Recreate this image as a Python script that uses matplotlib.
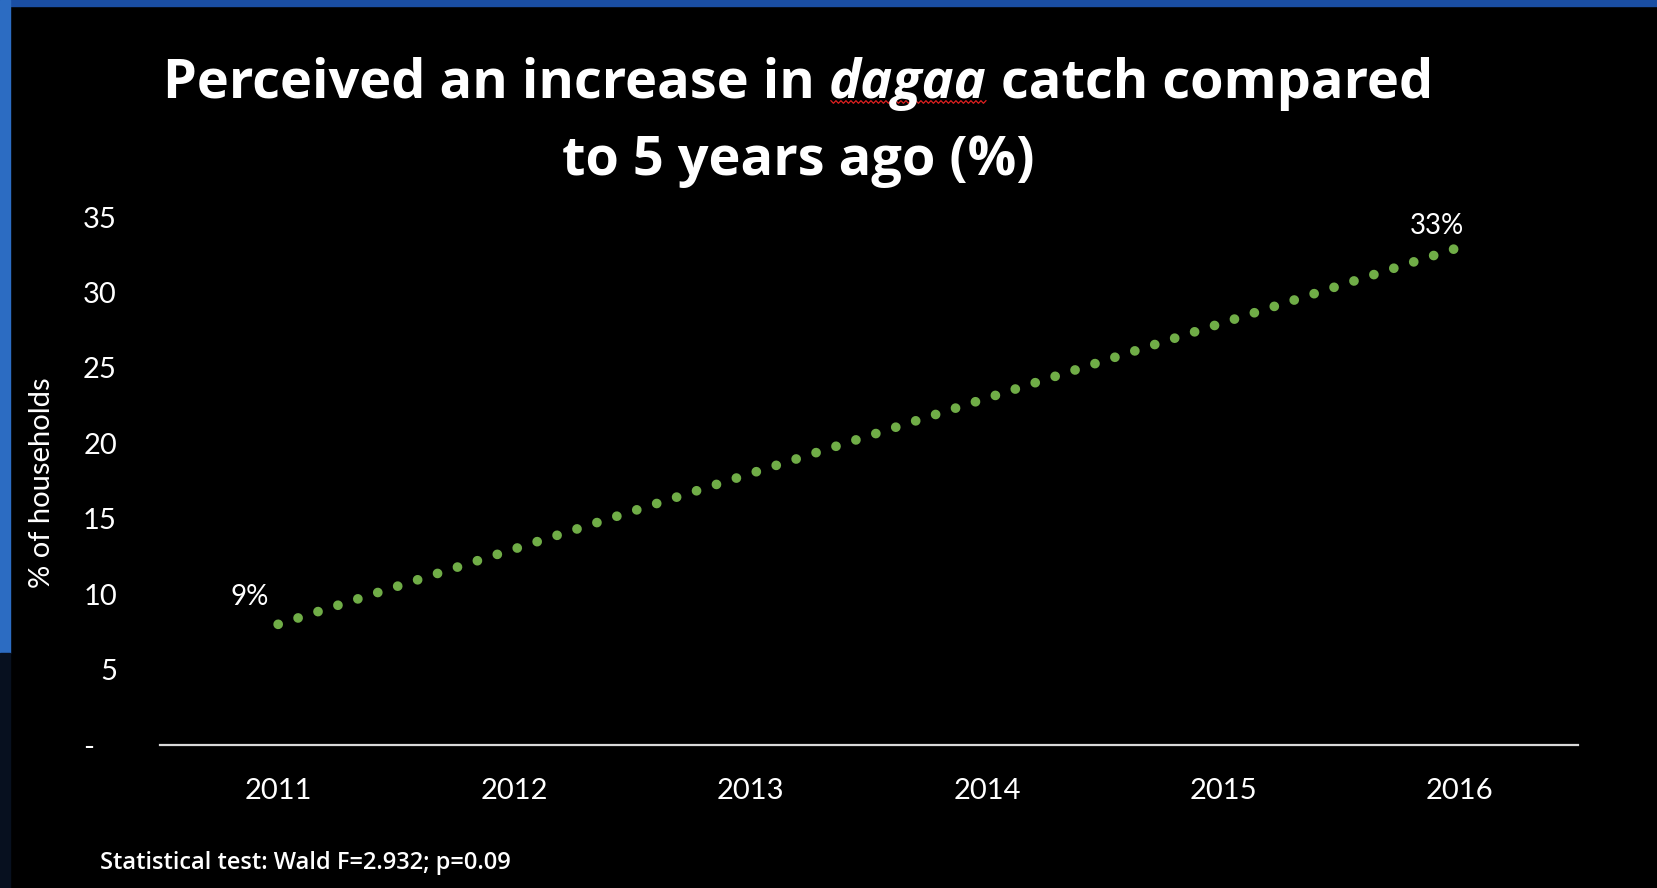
import numpy as np
import matplotlib.pyplot as plt
from matplotlib.patches import Rectangle

# data
categories = [2011, 2012, 2013, 2014, 2015, 2016]
obs_years = [2011, 2016]
obs_share = [8, 33]
obs_labels = ["9%", "33%"]
y_ticks = [0, 5, 10, 15, 20, 25, 30, 35]
y_ticklabels = ["-   ", "5", "10", "15", "20", "25", "30", "35"]

W, H = 1657, 888
plt.rcParams['font.family'] = ['Lato', 'DejaVu Sans']
TFONT = ['Open Sans', 'DejaVu Sans']

fig = plt.figure(figsize=(W / 100, H / 100), dpi=100, facecolor='black')

# slide background peeking out at the edges
fig.patches.append(Rectangle((0, 1 - 6 / H), 1, 6 / H, transform=fig.transFigure,
                             color='#1a4ea3', zorder=-5))
fig.patches.append(Rectangle((0, 1 - 653 / H), 10 / W, 653 / H, transform=fig.transFigure,
                             color='#2c6cc2', zorder=-5))
fig.patches.append(Rectangle((0, 0), 10 / W, 1 - 653 / H, transform=fig.transFigure,
                             color='#07101f', zorder=-5))

ax = fig.add_axes([160 / W, 1 - 745 / H, (1578 - 160) / W, (745 - 217) / H])
ax.set_facecolor('none')

ax.plot(obs_years, obs_share, color='#70ad47', lw=7,
        linestyle=(0, (0.001, 2.15)), dash_capstyle='round')

for x, y, lab, off in zip(obs_years, obs_share, obs_labels, [(-28, 27), (-23, 21)]):
    ax.annotate(lab, (x, y), xytext=off, textcoords='offset pixels',
                ha='center', va='center', color='white', fontsize=20)

ax.set_xlim(2010.5, 2016.5)
ax.set_ylim(0, 35)
ax.set_xticks(categories)
ax.set_xticklabels([str(c) for c in categories])
ax.set_yticks(y_ticks)
ax.set_yticklabels(y_ticklabels)
ax.tick_params(axis='x', length=0, pad=24, labelsize=21, labelcolor='white')
ax.tick_params(axis='y', length=0, pad=31, labelsize=21, labelcolor='white')
for s in ['top', 'right', 'left']:
    ax.spines[s].set_visible(False)
ax.spines['bottom'].set_color('#d9d9d9')
ax.spines['bottom'].set_linewidth(1.6)

fig.text(42 / W, 1 - 483 / H, "% of households", rotation=90, ha='center', va='center',
         color='white', fontsize=21)

fig.text(100 / W, 1 - 863 / H, "Statistical test: Wald F=2.932; p=0.09", ha='left',
         va='center', color='white', fontsize=17, fontweight='semibold', family=TFONT)

# title, built in pieces so the italic word can carry its red underline
tsize = 39
cx = 798
fig.canvas.draw()
r = fig.canvas.get_renderer()


def width(s, style='normal'):
    t = fig.text(0, 0, s, fontsize=tsize, fontweight='bold', style=style, family=TFONT)
    w = t.get_window_extent(r).width
    t.remove()
    return w


sp = width("n n") - width("nn")
pieces = [("Perceived an increase in", 'normal'), ("dagaa", 'italic'), ("catch compared", 'normal')]
ws = [width(s, st) for s, st in pieces]
total = sum(ws) + 2 * sp
x0 = cx - total / 2
base1 = H - 98
for (s, st), w in zip(pieces, ws):
    fig.text(x0 / W, base1 / H, s, fontsize=tsize, fontweight='bold', style=st,
             family=TFONT, color='white', ha='left', va='baseline')
    if st == 'italic':
        zx = np.arange(x0 + 2, x0 + w, 2.5)
        zy = base1 - 4 + np.where(np.arange(len(zx)) % 2 == 0, 1.3, -1.3)
        fig.add_artist(plt.Line2D(zx / W, zy / H, color='#e02020', lw=0.9,
                                  transform=fig.transFigure))
    x0 += w + sp

fig.text(cx / W, (H - 175) / H, "to 5 years ago (%)", fontsize=tsize, fontweight='bold',
         family=TFONT, color='white', ha='center', va='baseline')

plt.savefig('out.png', dpi=100, facecolor='black')
